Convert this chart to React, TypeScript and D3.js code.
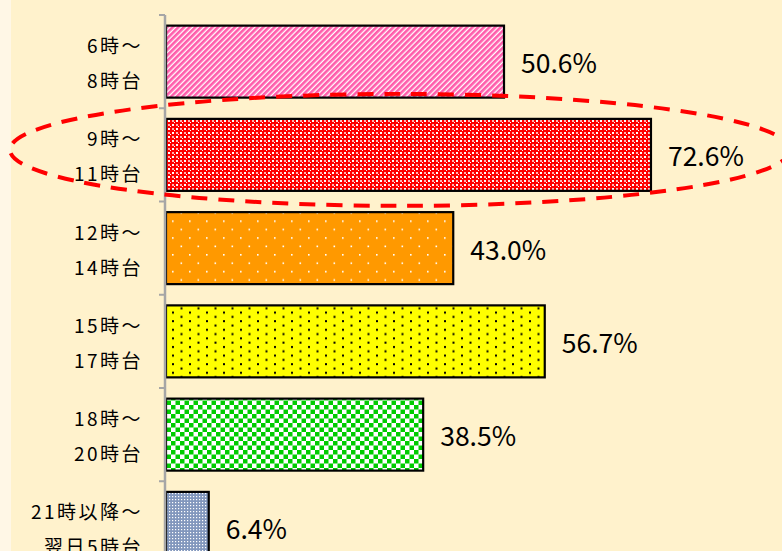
import React from "react";
import * as d3 from "d3";

const categories = ["6-8", "9-11", "12-14", "15-17", "18-20", "21-5"];
const labelLine1 = ["6時～", "9時～", "12時～", "15時～", "18時～", "21時以降～"];
const labelLine2 = ["8時台", "11時台", "14時台", "17時台", "20時台", "翌日5時台"];
const values = [50.6, 72.6, 43.0, 56.7, 38.5, 6.4];
const patternIds = ["pPink", "pRed", "pOrange", "pYellow", "pGreen", "pBlue"];
const highlighted = "9-11";

const W = 782;
const H = 551;
const FONT = "'Noto Sans CJK JP', 'Noto Sans', sans-serif";

export default function App() {
  const x = d3.scaleLinear().domain([0, 100]).range([166, 166 + 668]);
  const y = d3
    .scaleBand<string>()
    .domain(categories)
    .range([15, 15 + 93.25 * categories.length])
    .paddingInner(0.228)
    .paddingOuter(0.114);
  const step = y.step();
  const bw = y.bandwidth();
  const bandStart = (c: string) => (y(c) as number) - y.paddingOuter() * step;

  const hb = bandStart(highlighted) + step / 2;

  return (
    <div style={{ position: "fixed", left: 0, top: 0, width: W, height: H }}>
      <svg width={W} height={H} style={{ display: "block" }}>
        <defs>
          <pattern id="pPink" patternUnits="userSpaceOnUse" width={4} height={4} patternTransform="rotate(45)">
            <rect width={4} height={4} fill="#ffffff" />
            <rect width={2.7} height={4} fill="#ff5cab" />
          </pattern>
          <pattern id="pRed" patternUnits="userSpaceOnUse" width={8} height={8}>
            <rect width={8} height={8} fill="#ff0000" />
            <rect x={0} y={0} width={2} height={2} fill="#ffffff" />
            <rect x={4} y={4} width={2} height={2} fill="#ffffff" />
            <rect x={4} y={0} width={2} height={2} fill="#ffb3b3" />
            <rect x={0} y={4} width={2} height={2} fill="#ffb3b3" />
            <rect x={2} y={6} width={1} height={1} fill="#ffffff" />
            <rect x={6} y={2} width={1} height={1} fill="#ffffff" />
          </pattern>
          <pattern id="pOrange" patternUnits="userSpaceOnUse" width={17} height={16.8}>
            <rect width={17} height={16.8} fill="#ff9900" />
            <rect x={2} y={2} width={1.6} height={1.6} fill="#ffffff" />
            <rect x={10.5} y={10.4} width={1.6} height={1.6} fill="#ffffff" />
          </pattern>
          <pattern id="pYellow" patternUnits="userSpaceOnUse" width={17} height={8.6}>
            <rect width={17} height={8.6} fill="#ffff00" />
            <rect x={2} y={2} width={2} height={2} fill="#000000" />
            <rect x={10.5} y={6.3} width={2} height={2} fill="#000000" />
          </pattern>
          <pattern id="pGreen" patternUnits="userSpaceOnUse" width={9} height={9}>
            <rect width={9} height={9} fill="#ffffff" />
            <rect x={0} y={0} width={4.5} height={4.5} fill="#00cc00" />
            <rect x={4.5} y={4.5} width={4.5} height={4.5} fill="#00cc00" />
          </pattern>
          <pattern id="pBlue" patternUnits="userSpaceOnUse" width={3} height={3}>
            <rect width={3} height={3} fill="#8297bd" />
            <rect x={1} y={1} width={1.2} height={1.2} fill="#ffffff" />
          </pattern>
        </defs>

        <rect width={W} height={H} fill="#fff2cc" />
        <rect width={11} height={H} fill="#fff7e6" />

        {categories.map((c, i) => {
          const yy = y(c) as number;
          const cy = bandStart(c) + step / 2;
          return (
            <g key={c}>
              <rect
                x={x(0)}
                y={yy}
                width={x(values[i]) - x(0)}
                height={bw}
                fill={`url(#${patternIds[i]})`}
                stroke="#000000"
                strokeWidth={2.2}
              />
              <text
                x={x(values[i]) + 17}
                y={cy}
                dominantBaseline="central"
                fontFamily={FONT}
                fontSize={26.5}
                fill="#000000"
              >
                {values[i].toFixed(1)}%
              </text>
              <text
                x={143}
                y={cy - 17}
                textAnchor="end"
                dominantBaseline="central"
                fontFamily={FONT}
                fontSize={19}
                letterSpacing={2.5}
                fill="#000000"
              >
                {labelLine1[i]}
              </text>
              <text
                x={143}
                y={cy + 18}
                textAnchor="end"
                dominantBaseline="central"
                fontFamily={FONT}
                fontSize={19}
                letterSpacing={2.5}
                fill="#000000"
              >
                {labelLine2[i]}
              </text>
            </g>
          );
        })}

        <line x1={165} x2={165} y1={15} y2={H} stroke="#a6a6a6" strokeWidth={2.5} />
        {d3.range(categories.length + 1).map((k) => {
          const ty = 15 + k * step;
          return <line key={k} x1={159} x2={165} y1={ty} y2={ty} stroke="#a6a6a6" strokeWidth={2} />;
        })}

        <ellipse
          cx={400}
          cy={hb - 5}
          rx={390}
          ry={56}
          fill="none"
          stroke="#ff0000"
          strokeWidth={4}
          strokeDasharray="16 11"
        />
      </svg>
    </div>
  );
}
